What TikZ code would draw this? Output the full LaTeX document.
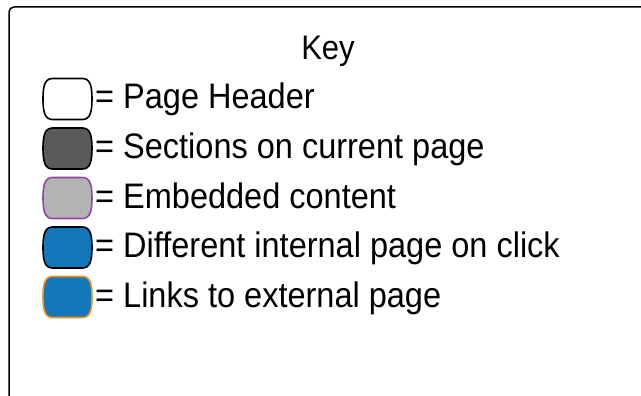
\documentclass[tikz,border=0pt]{standalone}
\usepackage{fontspec}
\setmainfont{Liberation Sans}
\definecolor{darkfill}{HTML}{5A5A5A}
\definecolor{greyfill}{HTML}{B3B3B3}
\definecolor{embedline}{HTML}{9446A6}
\definecolor{bluefill}{HTML}{1278B9}
\definecolor{extline}{HTML}{F3901C}
% a legend swatch: named anchor node plus a rounded outline with bulging sides
\newcommand\legendswatch[4]{%
  \node[swatchbox] (#1) at (#2) {};
  \filldraw[fill=#3,draw=#4,line width=1.6pt]
    ([shift={(-15,20.5)}]#1.center) -- ([shift={(15,20.5)}]#1.center)
    .. controls ([shift={(23,20.5)}]#1.center) and ([shift={(24.5,12)}]#1.center) .. ([shift={(24.5,0)}]#1.center)
    .. controls ([shift={(24.5,-12)}]#1.center) and ([shift={(23,-20.5)}]#1.center) .. ([shift={(15,-20.5)}]#1.center)
    -- ([shift={(-15,-20.5)}]#1.center)
    .. controls ([shift={(-23,-20.5)}]#1.center) and ([shift={(-24.5,-12)}]#1.center) .. ([shift={(-24.5,0)}]#1.center)
    .. controls ([shift={(-24.5,12)}]#1.center) and ([shift={(-23,20.5)}]#1.center) .. ([shift={(-15,20.5)}]#1.center)
    -- cycle;}
\begin{document}
\begin{tikzpicture}[x=1pt,y=1pt,
  swatchbox/.style={minimum width=49pt,minimum height=41pt,inner sep=0pt},
  keytext/.style={anchor=base west,inner sep=0pt,yscale=1.09,
    font=\fontsize{32.5}{36}\selectfont},
  title/.style={anchor=base,inner sep=0pt,yscale=1.1,
    font=\fontsize{31}{36}\selectfont}]
\useasboundingbox (0,0) rectangle (641,-396);
\clip (0,0) rectangle (641,-396);
% outer frame, running off the right and bottom edges
\draw[line width=1.5pt,rounded corners=5pt] (9,-420) -- (9,-7) -- (660,-7);
\node[title] (key) at (328,-60) {Key};
% legend swatches
\legendswatch{hdr}{67.5,-99}{white}{black}
\legendswatch{sec}{67.5,-148.5}{darkfill}{black}
\legendswatch{emb}{67.5,-198}{greyfill}{embedline}
\legendswatch{int}{67.5,-247.5}{bluefill}{black}
\legendswatch{ext}{67.5,-297}{bluefill}{extline}
% legend labels
\node[keytext] (thdr) at (95,-109) {= Page Header};
\node[keytext] (tsec) at (95,-158.5) {= Sections on current page};
\node[keytext] (temb) at (95,-208) {= Embedded content};
\node[keytext] (tint) at (95,-257.5) {= Different internal page on click};
\node[keytext] (text) at (95,-307) {= Links to external page};
\end{tikzpicture}
\end{document}
